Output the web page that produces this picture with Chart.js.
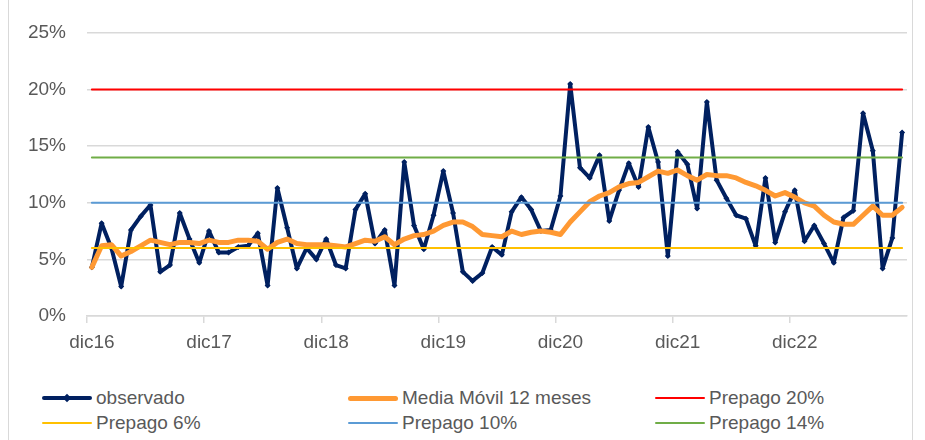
<!DOCTYPE html>
<html>
<head>
<meta charset="utf-8">
<script src="https://cdn.jsdelivr.net/npm/chart.js@4.4.1/dist/chart.umd.min.js"></script>
<style>
  html, body { margin: 0; padding: 0; background: #fff; }
  #wrap { position: relative; width: 925px; height: 440px; overflow: hidden; font-family: "Liberation Sans", Arial, sans-serif; }
  #frame { position: absolute; left: 8px; top: -2px; width: 905px; height: 442px; border-left: 1px solid #d9d9d9; border-right: 1px solid #d9d9d9; box-sizing: border-box; }
  #chart { position: absolute; left: 0; top: 0; }
  .item { position: absolute; height: 20px; display: flex; align-items: center; color: #595959; font-size: 19px; white-space: nowrap; }
  .swatch { position: relative; width: 50px; margin-right: 4px; }
  .dot { position: absolute; left: 22px; width: 6px; height: 6px; transform: rotate(45deg); }
</style>
</head>
<body>
<div id="wrap">
  <div id="frame"></div>
  <canvas id="chart" width="925" height="360"></canvas>
  <div id="legend"></div>
</div>
<script>
// Monthly series, dic16 .. nov23 (percent)
const monthNames = ["ene", "feb", "mar", "abr", "may", "jun", "jul", "ago", "sep", "oct", "nov", "dic"]

const observado = [
  4.3, 8.2, 6.0, 2.6, 7.6, 8.8, 9.8, 3.9, 4.5, 9.1, 6.8, 4.7,
  7.5, 5.6, 5.6, 6.1, 6.2, 7.3, 2.7, 11.3, 7.8, 4.2, 6.0, 5.0,
  6.8, 4.5, 4.2, 9.4, 10.8, 6.4, 7.6, 2.7, 13.6, 8.0, 5.9, 8.9,
  12.8, 9.1, 3.9, 3.1, 3.8, 6.1, 5.4, 9.2, 10.5, 9.4, 7.5, 7.6,
  10.6, 20.5, 13.1, 12.2, 14.2, 8.4, 11.1, 13.5, 11.4, 16.7, 13.6, 5.3,
  14.5, 13.4, 9.5, 18.9, 12.0, 10.4, 8.9, 8.6, 6.2, 12.2, 6.5, 9.2,
  11.1, 6.6, 8.0, 6.4, 4.7, 8.7, 9.3, 17.9, 14.6, 4.2, 6.9, 16.2
]

const mediaMovil = [
  4.3, 6.2, 6.3, 5.3, 5.7, 6.2, 6.7, 6.5, 6.3, 6.5, 6.5, 6.4,
  6.7, 6.5, 6.5, 6.7, 6.7, 6.6, 5.9, 6.5, 6.8, 6.4, 6.3, 6.3,
  6.3, 6.2, 6.1, 6.4, 6.7, 6.6, 7.0, 6.3, 6.8, 7.1, 7.2, 7.5,
  8.0, 8.3, 8.3, 7.9, 7.2, 7.1, 7.0, 7.5, 7.2, 7.4, 7.5, 7.4,
  7.2, 8.3, 9.2, 10.1, 10.6, 10.9, 11.4, 11.7, 11.8, 12.3, 12.8, 12.6,
  12.9, 12.4, 12.0, 12.5, 12.4, 12.4, 12.2, 11.8, 11.5, 11.1, 10.6, 10.9,
  10.5, 10.0, 9.7, 8.9, 8.3, 8.1, 8.1, 8.9, 9.7, 8.9, 8.9, 9.6
]

// Prepago reference levels (percent)
const prepagoLabels = ["Prepago 20%", "Prepago 6%", "Prepago 10%", "Prepago 14%"]
const prepagoLevels = [20, 6, 10, 14]
const prepagoColors = ["#ff0000", "#ffc000", "#5b9bd5", "#70ad47"]

const yTicks = [0, 5, 10, 15, 20, 25]

// category labels like "dic16", "ene17", ...
const labels = observado.map((_, i) => {
  const m = (11 + i) % 12
  const y = 16 + Math.floor((11 + i) / 12)
  return monthNames[m] + y
})
const n = labels.length

const datasets = [
  {
    label: "observado",
    data: observado,
    borderColor: "#002060",
    backgroundColor: "#002060",
    borderWidth: 4,
    pointStyle: "rectRot",
    pointRadius: 3,
    pointBorderWidth: 0,
    order: 6,
  },
  {
    label: "Media Móvil 12 meses",
    data: mediaMovil,
    borderColor: "#ff9933",
    backgroundColor: "#ff9933",
    borderWidth: 5,
    pointRadius: 0,
    order: 5,
  },
]
prepagoLevels.forEach((lvl, k) => {
  datasets.push({
    label: prepagoLabels[k],
    data: labels.map(() => lvl),
    borderColor: prepagoColors[k],
    backgroundColor: prepagoColors[k],
    borderWidth: 2,
    pointRadius: 0,
    order: 4 - k,
  })
})

const chart = new Chart(document.getElementById("chart"), {
  type: "line",
  data: { labels: labels, datasets: datasets },
  options: {
    responsive: false,
    animation: false,
    devicePixelRatio: 1,
    layout: { padding: { top: 33, right: 18, left: 0, bottom: 0 } },
    plugins: {
      legend: { display: false },
      tooltip: { enabled: false },
    },
    elements: { line: { tension: 0, borderJoinStyle: "round", borderCapStyle: "round" } },
    scales: {
      x: {
        type: "category",
        offset: true,
        afterFit: (s) => { s.height = 44 },
        grid: {
          offset: true,
          drawOnChartArea: false,
          drawTicks: true,
          tickLength: 7,
          lineWidth: 1.5,
          color: (ctx) => (ctx.index % 12 === 0 ? "#d9d9d9" : "rgba(0,0,0,0)"),
        },
        border: { display: true, color: "#d9d9d9", width: 1.5 },
        ticks: {
          autoSkip: false,
          maxRotation: 0,
          minRotation: 0,
          padding: 8,
          color: "#595959",
          font: { family: "Liberation Sans", size: 19 },
          callback: (v, i) => (i % 12 === 0 ? labels[i] : ""),
        },
      },
      y: {
        min: 0,
        max: 25,
        afterFit: (s) => { s.width = 87 },
        afterBuildTicks: (s) => { s.ticks = yTicks.map(v => ({ value: v })) },
        grid: { color: "#d9d9d9", lineWidth: 1.5, drawTicks: false },
        border: { display: false },
        ticks: {
          padding: 21,
          color: "#595959",
          font: { family: "Liberation Sans", size: 19 },
          callback: (v) => v + "%",
        },
      },
    },
  },
})

// legend in two rows of three, placed like the original
const legendOrder = [0, 1, 2, 3, 4, 5]
const colX = [42, 348, 655]
const rowY = [388, 413]
const legend = document.getElementById("legend")
legendOrder.forEach((dsIndex, k) => {
  const ds = chart.data.datasets[dsIndex]
  const item = document.createElement("div")
  item.className = "item"
  item.style.left = colX[k % 3] + "px"
  item.style.top = rowY[Math.floor(k / 3)] + "px"
  const sw = document.createElement("div")
  sw.className = "swatch"
  const w = dsIndex === 0 ? 4 : dsIndex === 1 ? 5 : 2.5
  sw.style.height = w + "px"
  sw.style.borderRadius = w / 2 + "px"
  sw.style.background = ds.borderColor
  if (dsIndex === 0) {
    const dot = document.createElement("div")
    dot.className = "dot"
    dot.style.background = ds.borderColor
    dot.style.top = (w / 2 - 3) + "px"
    sw.appendChild(dot)
  }
  const txt = document.createElement("span")
  txt.textContent = ds.label
  item.appendChild(sw)
  item.appendChild(txt)
  legend.appendChild(item)
})
</script>
</body>
</html>
